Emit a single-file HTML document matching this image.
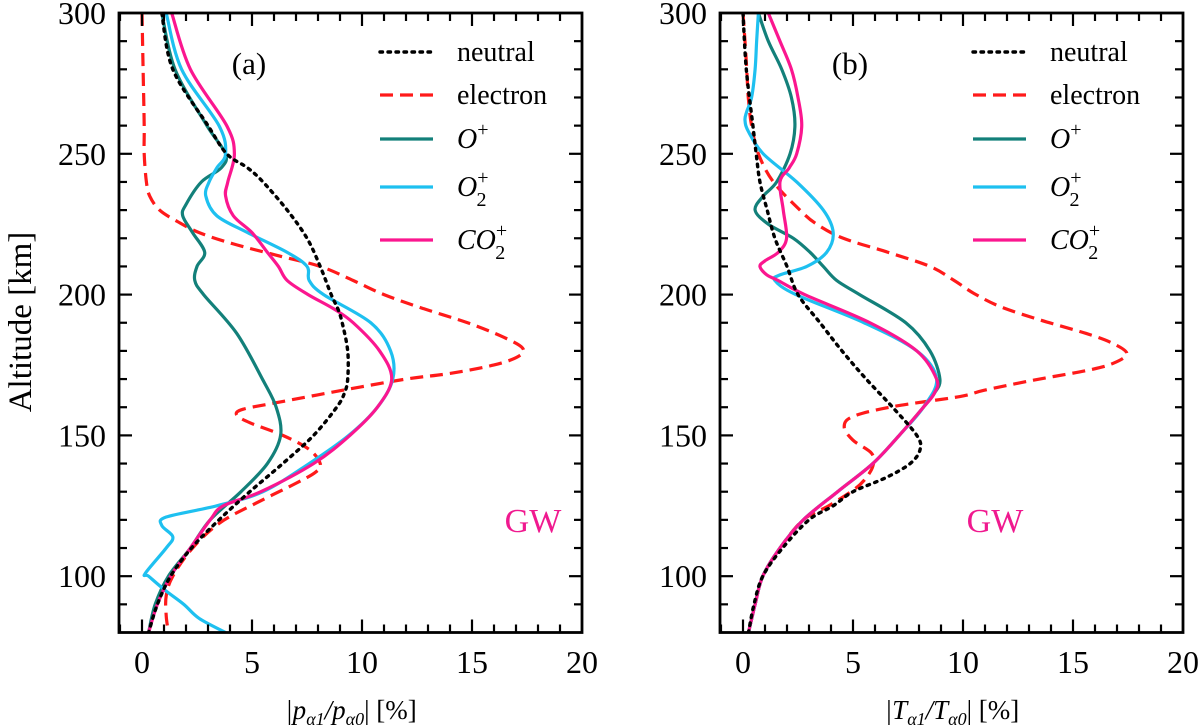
<!DOCTYPE html>
<html><head><meta charset="utf-8"><style>
html,body{margin:0;padding:0;background:#fff}
svg{display:block}
svg text{font-family:"Liberation Serif","DejaVu Serif",serif}
</style></head><body>
<svg id="chart" width="1200" height="727" viewBox="0 0 1200 727" xmlns="http://www.w3.org/2000/svg" font-family="Liberation Serif, DejaVu Serif, serif">
<text x="0" y="0" font-family="Liberation Serif, serif" transform="translate(31,322) rotate(-90)" text-anchor="middle" font-size="33">Altitude [km]</text>
<text x="351" y="719" font-family="Liberation Serif, serif" text-anchor="middle" font-size="27" font-style="italic">|p<tspan font-size="18" dy="6">α1</tspan><tspan dy="-6">/p</tspan><tspan font-size="18" dy="6">α0</tspan><tspan dy="-6" font-style="normal">|  [%]</tspan></text>
<text x="952" y="719" font-family="Liberation Serif, serif" text-anchor="middle" font-size="27" font-style="italic">|T<tspan font-size="18" dy="6">α1</tspan><tspan dy="-6">/T</tspan><tspan font-size="18" dy="6">α0</tspan><tspan dy="-6" font-style="normal">|  [%]</tspan></text>
</svg>
<script>
// Panel (a) pressure data
const aNeutralAlt=[300,280,260,250,245,240,230,220,210,200,195,190,180,170,165,160,150,140,130,120,110,100,90,80];
const aNeutralVal=[0.9,1.4,3.0,3.85,4.8,5.5,6.6,7.5,8.1,8.6,8.9,9.1,9.35,9.35,9.2,8.85,7.8,6.4,4.9,3.5,2.25,1.3,0.7,0.3];
const aElecAlt=[300,280,260,250,240,235,230,226,222,218,214,210,205,200,195,190,185,181,178,175,172,170,166,161.6,159.3,157.3,154.5,150,145,140,137,133,126,119,110,100,93,86,80];
const aElecVal=[0,0.05,0.1,0.1,0.2,0.35,0.8,1.6,2.6,4.15,6.1,8.1,9.6,11.0,12.8,14.8,16.4,17.3,17.1,16.0,14.0,12.0,9.1,6.1,4.6,4.3,4.9,6.4,7.6,8.1,7.9,7.0,5.2,3.55,2.3,1.4,1.1,1.1,1.2];
const aOpAlt=[300,280,260,250,245,240,232,228,222,215,210,205,200,186.3,169.6,160,150,140,130,120,110,100,90,80];
const aOpVal=[0.9,1.5,2.95,3.8,3.6,2.7,2.0,1.85,2.3,2.85,2.5,2.4,2.8,4.3,5.5,6.1,6.3,5.7,4.5,3.1,2.2,1.2,0.6,0.3];
const aO2Alt=[300,280,260,250,245,240,235,228,222,215,210,205,200,190,180,170,160,150,140,130,125,121,118,114,110,101,100,95,90,85,80];
const aO2Val=[1.1,1.8,3.5,3.8,3.4,3.05,2.9,3.4,4.8,6.6,7.5,7.6,8.25,10.4,11.3,11.4,10.7,9.4,7.6,5.5,3.4,1.1,0.9,1.4,1.1,0.15,0.3,1.05,1.9,2.6,3.8];
const aCO2Alt=[300,280,260,250,240,235,228,222,215,210,205,200,195,190,180,170,160,150,140,130,125,120,110,100,90,80];
const aCO2Val=[1.35,2.2,3.85,4.2,3.9,3.8,4.15,5.0,5.7,6.2,6.6,7.55,8.7,9.6,10.8,11.35,10.7,9.45,7.8,5.4,3.7,3.1,2.2,1.3,0.7,0.3];
// Panel (b) temperature data
const bNeutralAlt=[300,280,260,250,240,230,220,210,200,190,180,170,160,150,145,140,135,130,125,120,110,100,90,80];
const bNeutralVal=[0,0.15,0.45,0.6,0.77,1.1,1.45,2.0,2.5,3.5,4.5,5.6,6.8,7.9,8.05,7.6,6.5,5.0,4.1,3.0,1.8,0.9,0.5,0.25];
const bElecAlt=[300,290,280,270,260,250,240,230,225,220,215,210,205,200.4,195.7,191,186.2,182.7,179,175.5,173,169.6,166,163.8,160.2,156.7,153,148.3,143.6,139,134,130.5,125,120,110,100,90,80];
const bElecVal=[0,0.09,0.17,0.24,0.39,0.7,1.38,2.59,3.35,4.56,6.6,8.5,9.6,10.5,11.7,13.5,15.6,16.8,17.45,16.8,15.6,13.2,10.95,9.86,6.8,5.0,4.6,5.0,5.85,5.9,5.5,5.0,3.9,2.74,1.68,0.9,0.55,0.25];
const bOpAlt=[300,290,280,270,260,250,240,235,230,225,220,215,210,205,200,190,180,170,165,160,150,140,130,120,110,100,90,80];
const bOpVal=[0.7,1.15,1.76,2.2,2.36,2.14,1.53,0.92,0.55,1.15,2.29,3.05,3.65,4.26,5.3,7.4,8.5,8.95,8.7,8.2,7.1,5.9,4.3,2.74,1.68,0.9,0.55,0.25];
const bO2Alt=[300,290,280,270,265,262,258,250,240,230,222,215,210,207,205,200,190,180,170,160,150,140,130,120,110,100,90,80];
const bO2Val=[0.7,0.62,0.55,0.39,0.17,0.09,0.24,0.92,2.44,3.65,4.1,3.8,2.9,1.68,1.45,2.4,5.5,7.9,8.8,8.2,7.1,5.9,4.3,2.74,1.68,0.9,0.55,0.25];
const bCO2Alt=[300,290,280,270,260,250,245,240,230,220,215,212,210,207,205,200,190,180,170,165,160,150,140,130,120,110,100,90,80];
const bCO2Val=[1.15,1.68,2.2,2.5,2.67,2.44,2.1,1.68,1.83,1.98,1.6,1.0,0.77,1.08,1.6,2.8,5.77,7.9,8.8,8.7,8.2,7.1,5.9,4.3,2.74,1.68,0.9,0.55,0.25];
const xTicks=[0,5,10,15,20];
const yTicks=[100,150,200,250,300];

const NS='http://www.w3.org/2000/svg';
const svg=document.getElementById('chart');
const FONT='Liberation Serif, DejaVu Serif, serif';
function mk(tag,attrs,parent){const e=document.createElementNS(NS,tag);for(const k in attrs)e.setAttribute(k,attrs[k]);if(tag==='text')e.setAttribute('font-family',FONT);(parent||svg).appendChild(e);return e;}
const Y0=13,Y1=632.5;
function yScale(v){return Y0+(300-v)*(Y1-Y0)/220;}
function makeX(zeroPx){return v=>zeroPx+v*22;}
function pathFrom(pts){
  let d='M'+pts[0][0].toFixed(2)+','+pts[0][1].toFixed(2);
  for(let i=0;i<pts.length-1;i++){
    const p0=pts[i-1]||pts[i],p1=pts[i],p2=pts[i+1],p3=pts[i+2]||pts[i+1];
    const c1=[p1[0]+(p2[0]-p0[0])/6,p1[1]+(p2[1]-p0[1])/6];
    const c2=[p2[0]-(p3[0]-p1[0])/6,p2[1]-(p3[1]-p1[1])/6];
    d+='C'+c1[0].toFixed(2)+','+c1[1].toFixed(2)+' '+c2[0].toFixed(2)+','+c2[1].toFixed(2)+' '+p2[0].toFixed(2)+','+p2[1].toFixed(2);
  }
  return d;
}
const styles={
  neutral:{stroke:'#000',dash:'2.5 5.5',cap:'round',w:3.4},
  electron:{stroke:'#ff1a1a',dash:'13 7',cap:'butt',w:3.2},
  op:{stroke:'#13807a',dash:null,cap:'butt',w:3.2},
  o2:{stroke:'#1ec0f0',dash:null,cap:'butt',w:3.2},
  co2:{stroke:'#fb168f',dash:null,cap:'butt',w:3.2}
};
function panel(id,left,right,zeroPx,series,label,legendX,gwX){
  const g=mk('g',{});
  
  
  const xs=makeX(zeroPx);
  const clipId='clip-'+id;
  const cp=mk('clipPath',{id:clipId},g);
  mk('rect',{x:left,y:Y0,width:right-left,height:Y1-Y0},cp);
  const sg=mk('g',{'clip-path':'url(#'+clipId+')'},g);
  series.forEach(s=>{
    const pts=s.alt.map((a,i)=>[xs(s.val[i]),yScale(a)]);
    const st=styles[s.key];
    const p=mk('path',{d:pathFrom(pts),fill:'none',stroke:st.stroke,'stroke-width':st.w,'stroke-linecap':st.cap,'stroke-linejoin':'round'},sg);
    if(st.dash)p.setAttribute('stroke-dasharray',st.dash);
    
    
  });
  for(let v=-1;v<=20;v++){
    const x=xs(v); if(x<left+1||x>right-1)continue;
    const L=(v%5===0)?13:8;
    mk('line',{x1:x,y1:Y1,x2:x,y2:Y1-L,stroke:'#000','stroke-width':2.2},g);
    mk('line',{x1:x,y1:Y0,x2:x,y2:Y0+L,stroke:'#000','stroke-width':2.2},g);
  }
  for(let v=90;v<300;v+=10){
    const y=yScale(v);const L=(v%50===0)?13:8;
    mk('line',{x1:left,y1:y,x2:left+L,y2:y,stroke:'#000','stroke-width':2.2},g);
    mk('line',{x1:right,y1:y,x2:right-L,y2:y,stroke:'#000','stroke-width':2.2},g);
  }
  const fr=mk('rect',{x:left,y:Y0,width:right-left,height:Y1-Y0,fill:'none',stroke:'#000','stroke-width':2.8},g);
  
  
  xTicks.forEach(v=>{
    const t=mk('text',{x:xs(v),y:673,'text-anchor':'middle','font-size':32},g);
    t.textContent=String(v);
    
    
  });
  yTicks.forEach(v=>{
    const t=mk('text',{x:left-13,y:yScale(v)+11,'text-anchor':'end','font-size':32},g);
    t.textContent=String(v);
    
    
  });
  const lb=mk('text',{x:zeroPx+107,y:74,'text-anchor':'middle','font-size':31},g);
  lb.textContent=label;
  
  
  const gw=mk('text',{x:gwX,y:532,'text-anchor':'middle','font-size':34,fill:'#f0198f'},g);
  gw.textContent='GW';
  
  
  const rows=[['neutral',52],['electron',95],['op',139],['o2',187],['co2',240]];
  const lg=mk('g',{},g);
  
  
  rows.forEach(r=>{
    const st=styles[r[0]];
    const l=mk('line',{x1:legendX,y1:r[1],x2:legendX+53,y2:r[1],stroke:st.stroke,'stroke-width':st.w,'stroke-linecap':st.cap},lg);
    if(st.dash)l.setAttribute('stroke-dasharray',st.dash);
    
    
    const t=mk('text',{x:legendX+77,y:r[1]+9,'font-size':28},lg);
    
    
    if(r[0]==='neutral')t.textContent='neutral';
    else if(r[0]==='electron')t.textContent='electron';
    else if(r[0]==='op'){t.setAttribute('font-style','italic');t.innerHTML='O<tspan font-size="20" dy="-12" font-style="normal">+</tspan>';}
    else if(r[0]==='o2'){t.setAttribute('font-style','italic');t.innerHTML='O<tspan font-size="20" dy="-12" font-style="normal">+</tspan><tspan font-size="20" dx="-12" dy="22" font-style="normal">2</tspan>';}
    else {t.setAttribute('font-style','italic');t.innerHTML='CO<tspan font-size="20" dy="-12" font-style="normal">+</tspan><tspan font-size="20" dx="-12" dy="22" font-style="normal">2</tspan>';}
  });
}
panel('a',119,582,142,[
  {key:'electron',alt:aElecAlt,val:aElecVal},
  {key:'op',alt:aOpAlt,val:aOpVal},
  {key:'o2',alt:aO2Alt,val:aO2Val},
  {key:'co2',alt:aCO2Alt,val:aCO2Val},
  {key:'neutral',alt:aNeutralAlt,val:aNeutralVal}
],'(a)',380,533);
panel('b',720,1183,743,[
  {key:'electron',alt:bElecAlt,val:bElecVal},
  {key:'op',alt:bOpAlt,val:bOpVal},
  {key:'o2',alt:bO2Alt,val:bO2Val},
  {key:'co2',alt:bCO2Alt,val:bCO2Val},
  {key:'neutral',alt:bNeutralAlt,val:bNeutralVal}
],'(b)',973,995);
</script>
</body></html>
